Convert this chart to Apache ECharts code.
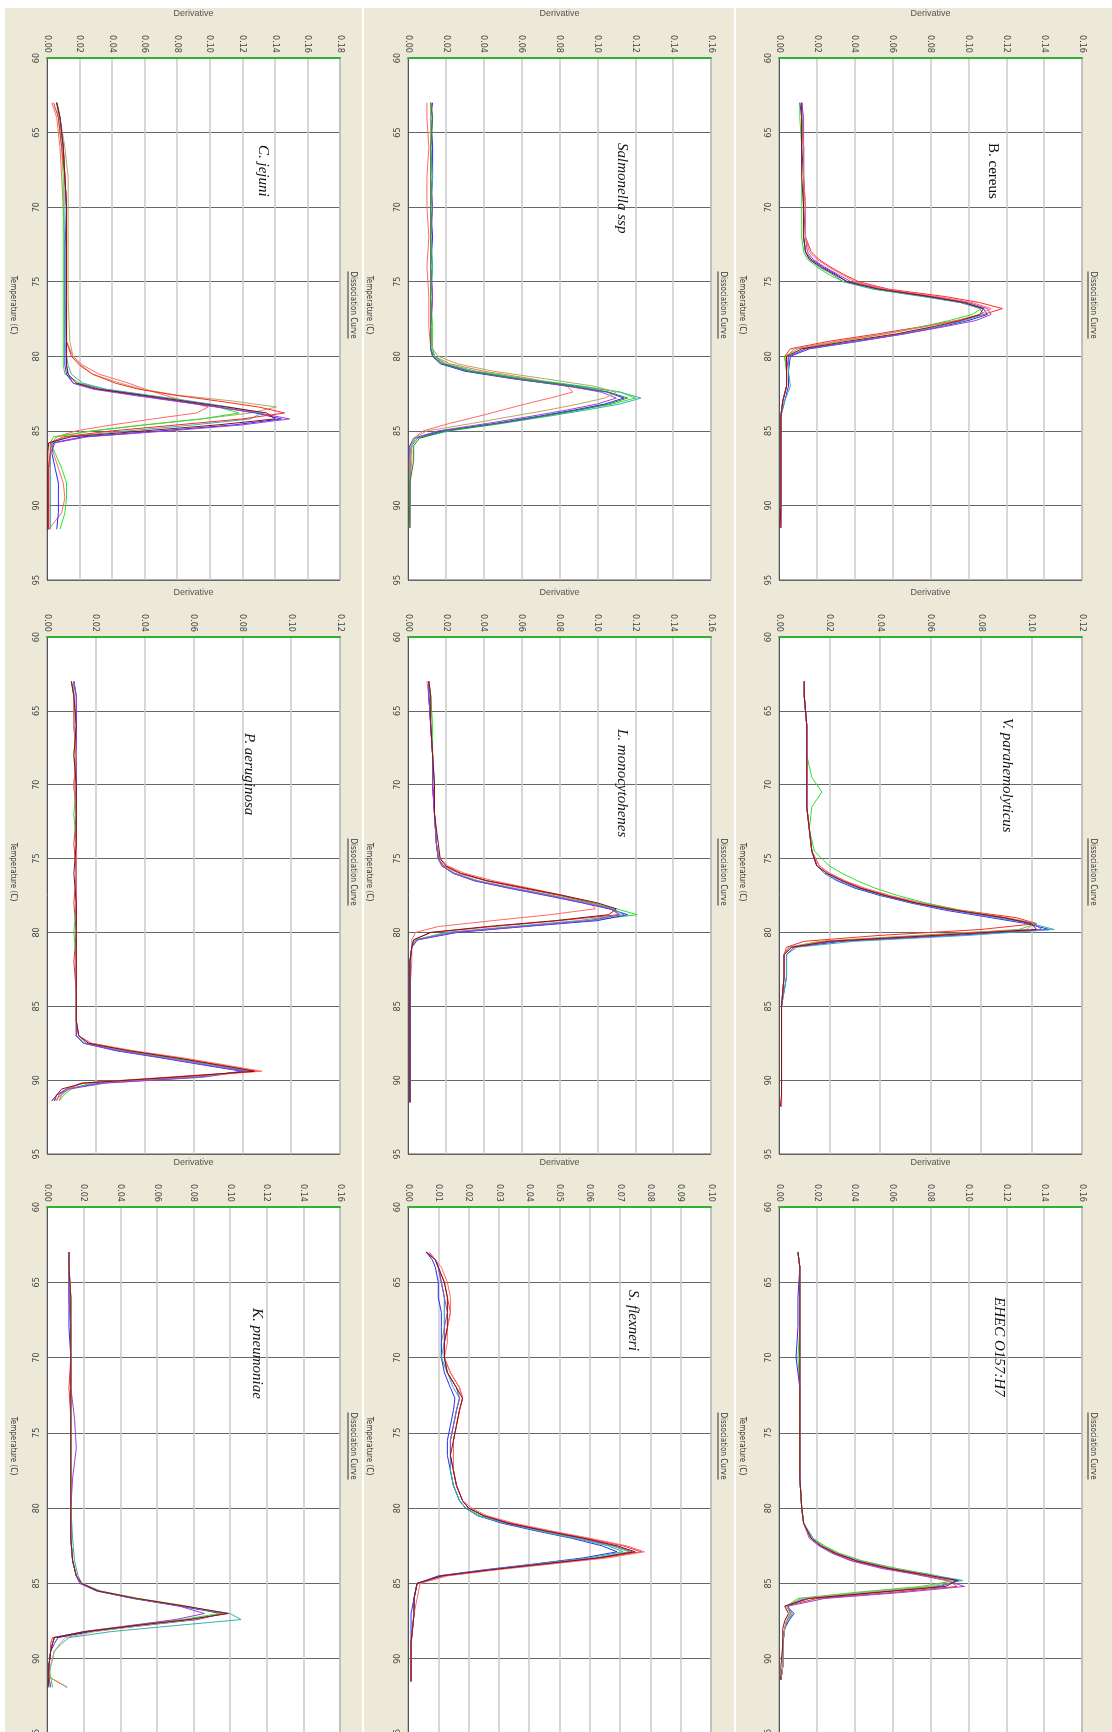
<!DOCTYPE html>
<html>
<head>
<meta charset="utf-8">
<title>Dissociation curves</title>
<script src="https://cdn.jsdelivr.net/npm/echarts@6/dist/echarts.min.js"></script>
<style>
	html, body { margin: 0; padding: 0; background: #fff; }
	#chart { width: 1112px; height: 1732px; }
</style>
</head>
<body>
<div id="chart"></div>
<script>
// values: temperature (C) per panel, derivative per curve

// C. jejuni
var cjTemp = [63, 64, 66, 68, 70, 73, 76, 79, 80, 80.6, 81.2, 81.8, 82.2, 82.6, 83, 83.4, 83.8, 84.2, 84.6, 85, 85.4, 85.8, 86.5, 87.5, 88.5, 89.5, 90.5, 91.6];
var cjCurves = [
	[0.003, 0.006, 0.008, 0.009, 0.010, 0.011, 0.011, 0.012, 0.016, 0.022, 0.032, 0.050, 0.060, 0.072, 0.085, 0.099, 0.092, 0.065, 0.040, 0.018, 0.006, 0.003, 0.004, 0.007, 0.010, 0.011, 0.009, 0.001],
	[0.006, 0.008, 0.011, 0.013, 0.013, 0.013, 0.013, 0.014, 0.016, 0.021, 0.028, 0.045, 0.058, 0.080, 0.114, 0.141, 0.125, 0.095, 0.060, 0.028, 0.006, 0.003, 0.002, 0.002, 0.002, 0.002, 0.002, 0.002],
	[0.006, 0.007, 0.009, 0.010, 0.010, 0.010, 0.010, 0.010, 0.010, 0.010, 0.011, 0.020, 0.035, 0.060, 0.085, 0.105, 0.118, 0.095, 0.060, 0.028, 0.004, 0.002, 0.005, 0.009, 0.012, 0.012, 0.011, 0.008],
	[0.006, 0.008, 0.010, 0.011, 0.012, 0.011, 0.011, 0.011, 0.011, 0.011, 0.012, 0.016, 0.030, 0.055, 0.080, 0.105, 0.128, 0.144, 0.115, 0.070, 0.022, 0.004, 0.003, 0.005, 0.007, 0.007, 0.007, 0.006],
	[0.006, 0.008, 0.010, 0.011, 0.012, 0.012, 0.012, 0.012, 0.012, 0.012, 0.013, 0.016, 0.028, 0.052, 0.078, 0.104, 0.130, 0.149, 0.120, 0.075, 0.025, 0.005, 0.002, 0.001, 0.001, 0.001, 0.001, 0.001],
	[0.006, 0.008, 0.010, 0.011, 0.011, 0.011, 0.011, 0.011, 0.012, 0.013, 0.015, 0.022, 0.036, 0.062, 0.088, 0.112, 0.132, 0.125, 0.090, 0.050, 0.012, 0.003, 0.002, 0.002, 0.002, 0.002, 0.002, 0.002],
	[0.004, 0.007, 0.009, 0.011, 0.012, 0.012, 0.012, 0.012, 0.015, 0.020, 0.028, 0.042, 0.056, 0.078, 0.105, 0.130, 0.146, 0.120, 0.080, 0.040, 0.010, 0.002, 0.002, 0.001, 0.001, 0.001, 0.001, 0.001],
	[0.006, 0.008, 0.010, 0.011, 0.012, 0.012, 0.012, 0.012, 0.012, 0.012, 0.013, 0.018, 0.032, 0.058, 0.084, 0.110, 0.135, 0.140, 0.105, 0.060, 0.015, 0.001, 0.0005, 0.0005, 0.0005, 0.0005, 0.0005, 0.0005]
];
var cjColors = ['salmon', 'olive', 'green', 'blue', 'purple', 'teal', 'red', 'maroon'];

// Salmonella ssp
var saTemp = [63, 64, 66, 68, 70, 72, 74, 76, 78, 79.5, 80, 80.5, 81, 81.5, 82, 82.4, 82.8, 83.2, 83.6, 84, 84.5, 85, 85.5, 86, 87, 88.5, 90, 91.5];
var saCurves = [
	[0.010, 0.010, 0.011, 0.010, 0.010, 0.011, 0.010, 0.011, 0.011, 0.012, 0.014, 0.022, 0.040, 0.065, 0.084, 0.087, 0.075, 0.062, 0.050, 0.038, 0.022, 0.008, 0.003, 0.002, 0.002, 0.001, 0.001, 0.001],
	[0.012, 0.012, 0.013, 0.012, 0.013, 0.012, 0.013, 0.012, 0.013, 0.013, 0.014, 0.020, 0.036, 0.062, 0.092, 0.112, 0.120, 0.108, 0.090, 0.072, 0.048, 0.020, 0.004, 0.002, 0.001, 0.001, 0.001, 0.001],
	[0.013, 0.012, 0.013, 0.013, 0.012, 0.013, 0.012, 0.013, 0.012, 0.012, 0.013, 0.017, 0.030, 0.055, 0.085, 0.105, 0.114, 0.104, 0.088, 0.070, 0.046, 0.018, 0.003, 0.001, 0.001, 0.001, 0.001, 0.001],
	[0.012, 0.012, 0.012, 0.013, 0.012, 0.012, 0.013, 0.012, 0.012, 0.013, 0.014, 0.019, 0.034, 0.060, 0.090, 0.112, 0.123, 0.112, 0.094, 0.075, 0.050, 0.022, 0.005, 0.002, 0.001, 0.001, 0.001, 0.001],
	[0.012, 0.013, 0.012, 0.012, 0.013, 0.012, 0.012, 0.013, 0.012, 0.012, 0.013, 0.018, 0.032, 0.056, 0.084, 0.102, 0.110, 0.100, 0.084, 0.066, 0.042, 0.016, 0.003, 0.001, 0.001, 0.001, 0.001, 0.001],
	[0.012, 0.012, 0.012, 0.012, 0.012, 0.012, 0.012, 0.012, 0.012, 0.013, 0.016, 0.026, 0.045, 0.072, 0.098, 0.110, 0.104, 0.090, 0.074, 0.056, 0.034, 0.010, 0.003, 0.002, 0.001, 0.001, 0.001, 0.001],
	[0.012, 0.013, 0.012, 0.012, 0.012, 0.012, 0.012, 0.012, 0.012, 0.012, 0.013, 0.018, 0.032, 0.058, 0.088, 0.106, 0.116, 0.106, 0.090, 0.072, 0.048, 0.020, 0.006, 0.003, 0.003, 0.001, 0.001, 0.0005]
];
var saColors = ['salmon', 'green', 'blue', 'teal', 'purple', 'olive', 'darkgreen'];

// B. cereus
var bcTemp = [63, 64, 66, 68, 70, 72, 73, 73.5, 74, 74.5, 75, 75.5, 76, 76.4, 76.8, 77.2, 77.6, 78, 78.5, 79, 79.5, 80, 81, 82, 83, 84, 86, 88, 90, 91.5];
var bcCurves = [
	[0.012, 0.012, 0.013, 0.013, 0.014, 0.014, 0.017, 0.021, 0.027, 0.034, 0.042, 0.058, 0.088, 0.106, 0.118, 0.108, 0.094, 0.076, 0.052, 0.026, 0.006, 0.003, 0.004, 0.004, 0.002, 0.001, 0.001, 0.001, 0.001, 0.001],
	[0.011, 0.011, 0.012, 0.012, 0.012, 0.012, 0.013, 0.015, 0.020, 0.026, 0.034, 0.050, 0.078, 0.098, 0.107, 0.102, 0.090, 0.076, 0.056, 0.032, 0.010, 0.003, 0.004, 0.004, 0.002, 0.001, 0.001, 0.001, 0.001, 0.001],
	[0.011, 0.012, 0.012, 0.013, 0.013, 0.013, 0.014, 0.017, 0.023, 0.030, 0.036, 0.052, 0.078, 0.096, 0.108, 0.110, 0.100, 0.086, 0.066, 0.042, 0.016, 0.006, 0.005, 0.005, 0.003, 0.001, 0.001, 0.001, 0.001, 0.001],
	[0.012, 0.012, 0.013, 0.013, 0.013, 0.013, 0.014, 0.016, 0.021, 0.028, 0.034, 0.050, 0.076, 0.096, 0.106, 0.108, 0.098, 0.084, 0.064, 0.040, 0.014, 0.005, 0.005, 0.006, 0.003, 0.001, 0.001, 0.001, 0.001, 0.001],
	[0.012, 0.013, 0.013, 0.013, 0.013, 0.014, 0.015, 0.018, 0.024, 0.031, 0.038, 0.055, 0.082, 0.100, 0.110, 0.112, 0.104, 0.088, 0.066, 0.040, 0.014, 0.005, 0.004, 0.004, 0.002, 0.001, 0.001, 0.001, 0.001, 0.001],
	[0.012, 0.012, 0.013, 0.013, 0.014, 0.014, 0.016, 0.020, 0.026, 0.033, 0.040, 0.056, 0.084, 0.102, 0.112, 0.106, 0.094, 0.078, 0.056, 0.030, 0.008, 0.004, 0.004, 0.004, 0.002, 0.001, 0.001, 0.001, 0.001, 0.001],
	[0.012, 0.012, 0.012, 0.012, 0.013, 0.013, 0.014, 0.016, 0.022, 0.029, 0.036, 0.053, 0.080, 0.098, 0.108, 0.106, 0.096, 0.082, 0.062, 0.036, 0.012, 0.004, 0.004, 0.004, 0.002, 0.001, 0.001, 0.001, 0.001, 0.0005]
];
var bcColors = ['red', 'green', 'blue', 'teal', 'purple', 'salmon', 'maroon'];

// P. aeruginosa
var paTemp = [63, 64, 66, 68, 70, 72, 74, 76, 78, 80, 82, 84, 86, 87, 87.5, 88, 88.5, 89, 89.4, 89.8, 90.2, 90.6, 91, 91.4];
var paCurves = [
	[0.010, 0.011, 0.011, 0.012, 0.011, 0.012, 0.011, 0.012, 0.011, 0.012, 0.011, 0.012, 0.012, 0.013, 0.018, 0.034, 0.054, 0.072, 0.086, 0.050, 0.014, 0.008, 0.005, 0.004],
	[0.011, 0.011, 0.012, 0.011, 0.012, 0.011, 0.012, 0.012, 0.012, 0.011, 0.012, 0.012, 0.012, 0.012, 0.015, 0.030, 0.050, 0.068, 0.082, 0.058, 0.018, 0.010, 0.007, 0.005],
	[0.011, 0.012, 0.012, 0.012, 0.012, 0.012, 0.012, 0.012, 0.012, 0.012, 0.012, 0.012, 0.012, 0.012, 0.015, 0.028, 0.047, 0.065, 0.080, 0.062, 0.022, 0.008, 0.004, 0.002],
	[0.011, 0.011, 0.011, 0.012, 0.012, 0.012, 0.012, 0.012, 0.012, 0.012, 0.012, 0.012, 0.012, 0.013, 0.016, 0.031, 0.051, 0.069, 0.083, 0.060, 0.020, 0.009, 0.006, 0.003],
	[0.011, 0.012, 0.012, 0.012, 0.012, 0.012, 0.012, 0.012, 0.012, 0.012, 0.012, 0.012, 0.012, 0.012, 0.015, 0.029, 0.048, 0.066, 0.081, 0.064, 0.024, 0.009, 0.004, 0.002],
	[0.010, 0.011, 0.011, 0.012, 0.011, 0.012, 0.012, 0.012, 0.012, 0.012, 0.012, 0.012, 0.012, 0.013, 0.018, 0.035, 0.056, 0.074, 0.088, 0.054, 0.015, 0.008, 0.006, 0.005],
	[0.010, 0.011, 0.012, 0.011, 0.012, 0.012, 0.012, 0.011, 0.012, 0.012, 0.012, 0.012, 0.012, 0.013, 0.017, 0.033, 0.053, 0.071, 0.085, 0.052, 0.015, 0.006, 0.004, 0.003]
];
var paColors = ['red', 'green', 'blue', 'teal', 'purple', 'salmon', 'maroon'];

// L. monocytogenes
var lmTemp = [63, 64, 66, 68, 70, 72, 74, 75, 75.5, 76, 76.5, 77, 77.5, 78, 78.4, 78.8, 79.2, 79.6, 80, 80.5, 81, 82, 84, 86, 88, 90, 91.5];
var lmCurves = [
	[0.010, 0.011, 0.012, 0.013, 0.013, 0.014, 0.015, 0.017, 0.021, 0.030, 0.045, 0.064, 0.082, 0.096, 0.099, 0.075, 0.045, 0.016, 0.004, 0.002, 0.002, 0.002, 0.001, 0.001, 0.001, 0.001, 0.001],
	[0.011, 0.011, 0.012, 0.013, 0.013, 0.014, 0.015, 0.016, 0.019, 0.027, 0.041, 0.060, 0.080, 0.098, 0.108, 0.111, 0.080, 0.045, 0.012, 0.003, 0.002, 0.001, 0.001, 0.001, 0.001, 0.001, 0.001],
	[0.011, 0.012, 0.013, 0.013, 0.014, 0.014, 0.015, 0.016, 0.018, 0.024, 0.036, 0.055, 0.076, 0.096, 0.110, 0.121, 0.095, 0.058, 0.022, 0.004, 0.002, 0.001, 0.001, 0.001, 0.001, 0.001, 0.001],
	[0.011, 0.011, 0.012, 0.013, 0.013, 0.014, 0.015, 0.016, 0.018, 0.024, 0.035, 0.053, 0.073, 0.092, 0.106, 0.116, 0.100, 0.062, 0.026, 0.005, 0.002, 0.001, 0.001, 0.001, 0.001, 0.001, 0.001],
	[0.011, 0.012, 0.012, 0.013, 0.014, 0.014, 0.015, 0.016, 0.018, 0.025, 0.037, 0.056, 0.076, 0.095, 0.108, 0.114, 0.090, 0.055, 0.020, 0.004, 0.002, 0.001, 0.001, 0.001, 0.001, 0.001, 0.001],
	[0.011, 0.011, 0.012, 0.013, 0.013, 0.014, 0.015, 0.016, 0.018, 0.024, 0.035, 0.054, 0.074, 0.093, 0.107, 0.112, 0.096, 0.060, 0.024, 0.005, 0.002, 0.001, 0.001, 0.001, 0.001, 0.001, 0.001],
	[0.011, 0.012, 0.012, 0.013, 0.014, 0.014, 0.016, 0.017, 0.020, 0.028, 0.042, 0.062, 0.082, 0.100, 0.110, 0.106, 0.078, 0.042, 0.012, 0.003, 0.002, 0.001, 0.001, 0.001, 0.001, 0.001, 0.001]
];
var lmColors = ['salmon', 'red', 'green', 'blue', 'teal', 'purple', 'maroon'];

// V. parahemolyticus
var vpTemp = [63, 64, 66, 68, 69.5, 70.5, 71.5, 73, 74.5, 75.5, 76, 76.5, 77, 77.5, 78, 78.5, 79, 79.4, 79.8, 80.2, 80.6, 81, 81.5, 83, 85, 87, 89, 91, 91.8];
var vpCurves = [
	[0.010, 0.010, 0.011, 0.011, 0.011, 0.011, 0.011, 0.012, 0.013, 0.016, 0.020, 0.026, 0.033, 0.043, 0.056, 0.072, 0.094, 0.102, 0.080, 0.040, 0.010, 0.003, 0.002, 0.002, 0.001, 0.001, 0.001, 0.001, 0.001],
	[0.010, 0.010, 0.011, 0.011, 0.013, 0.017, 0.013, 0.012, 0.014, 0.020, 0.025, 0.031, 0.038, 0.047, 0.058, 0.072, 0.090, 0.102, 0.095, 0.055, 0.016, 0.004, 0.002, 0.002, 0.001, 0.001, 0.001, 0.001, 0.001],
	[0.010, 0.010, 0.011, 0.011, 0.011, 0.011, 0.011, 0.012, 0.013, 0.015, 0.018, 0.023, 0.030, 0.040, 0.052, 0.066, 0.084, 0.098, 0.107, 0.070, 0.025, 0.006, 0.003, 0.003, 0.001, 0.001, 0.001, 0.001, 0.001],
	[0.010, 0.010, 0.011, 0.011, 0.011, 0.011, 0.011, 0.012, 0.013, 0.015, 0.018, 0.024, 0.031, 0.041, 0.053, 0.068, 0.086, 0.100, 0.109, 0.075, 0.030, 0.007, 0.003, 0.003, 0.001, 0.001, 0.001, 0.001, 0.001],
	[0.010, 0.010, 0.011, 0.011, 0.011, 0.011, 0.011, 0.012, 0.013, 0.015, 0.019, 0.025, 0.032, 0.042, 0.054, 0.069, 0.088, 0.101, 0.104, 0.065, 0.022, 0.005, 0.002, 0.002, 0.001, 0.001, 0.001, 0.001, 0.001],
	[0.010, 0.010, 0.011, 0.011, 0.011, 0.011, 0.011, 0.012, 0.013, 0.016, 0.020, 0.026, 0.034, 0.044, 0.056, 0.071, 0.090, 0.101, 0.098, 0.058, 0.018, 0.004, 0.002, 0.002, 0.001, 0.001, 0.001, 0.001, 0.001],
	[0.010, 0.010, 0.011, 0.011, 0.011, 0.011, 0.011, 0.012, 0.013, 0.015, 0.019, 0.025, 0.032, 0.042, 0.054, 0.070, 0.089, 0.100, 0.102, 0.062, 0.020, 0.005, 0.002, 0.002, 0.001, 0.001, 0.001, 0.001, 0.0005]
];
var vpColors = ['red', 'green', 'blue', 'teal', 'purple', 'salmon', 'maroon'];

// K. pneumoniae
var kpTemp = [63, 64, 66, 68, 70, 72, 74, 76, 78, 80, 82, 83.5, 84.5, 85, 85.5, 86, 86.5, 87, 87.4, 87.8, 88.2, 88.6, 89, 89.5, 90.5, 91.2, 91.9];
var kpCurves = [
	[0.012, 0.012, 0.013, 0.013, 0.013, 0.012, 0.013, 0.013, 0.013, 0.013, 0.013, 0.014, 0.016, 0.019, 0.028, 0.048, 0.074, 0.098, 0.078, 0.050, 0.022, 0.003, 0.002, 0.002, 0.001, 0.001, 0.011],
	[0.012, 0.012, 0.012, 0.013, 0.013, 0.013, 0.013, 0.013, 0.013, 0.013, 0.013, 0.014, 0.016, 0.019, 0.029, 0.050, 0.076, 0.094, 0.074, 0.046, 0.020, 0.004, 0.003, 0.002, 0.001, 0.002, 0.003],
	[0.012, 0.012, 0.012, 0.012, 0.013, 0.013, 0.013, 0.013, 0.013, 0.013, 0.013, 0.014, 0.016, 0.018, 0.027, 0.047, 0.072, 0.096, 0.082, 0.052, 0.024, 0.006, 0.004, 0.002, 0.001, 0.001, 0.001],
	[0.012, 0.012, 0.013, 0.013, 0.013, 0.013, 0.013, 0.013, 0.013, 0.013, 0.014, 0.015, 0.017, 0.019, 0.028, 0.048, 0.074, 0.100, 0.106, 0.070, 0.035, 0.012, 0.008, 0.004, 0.002, 0.001, 0.002],
	[0.012, 0.012, 0.012, 0.013, 0.013, 0.013, 0.015, 0.016, 0.014, 0.013, 0.013, 0.014, 0.016, 0.018, 0.028, 0.048, 0.072, 0.086, 0.070, 0.045, 0.020, 0.004, 0.003, 0.002, 0.001, 0.001, 0.002],
	[0.012, 0.012, 0.013, 0.013, 0.013, 0.013, 0.013, 0.013, 0.013, 0.013, 0.013, 0.014, 0.016, 0.019, 0.029, 0.049, 0.075, 0.097, 0.080, 0.052, 0.026, 0.010, 0.007, 0.004, 0.002, 0.001, 0.011],
	[0.012, 0.012, 0.013, 0.013, 0.013, 0.013, 0.013, 0.013, 0.013, 0.013, 0.013, 0.014, 0.016, 0.019, 0.028, 0.049, 0.075, 0.099, 0.077, 0.048, 0.021, 0.004, 0.003, 0.002, 0.001, 0.001, 0.0005]
];
var kpColors = ['red', 'green', 'blue', 'teal', 'purple', 'olive', 'maroon'];

// S. flexneri
var sfTemp = [63, 63.5, 64, 65, 66, 67, 68, 69, 70, 71, 72, 72.7, 73.5, 74.5, 75.5, 76.5, 77.5, 78.5, 79.5, 80, 80.5, 81, 81.5, 82, 82.5, 82.9, 83.3, 83.7, 84.1, 84.5, 85, 86, 87, 89, 91.5];
var sfCurves = [
	[0.007, 0.009, 0.010, 0.012, 0.013, 0.014, 0.013, 0.012, 0.012, 0.014, 0.017, 0.018, 0.017, 0.016, 0.015, 0.015, 0.015, 0.016, 0.018, 0.020, 0.025, 0.034, 0.046, 0.059, 0.071, 0.077, 0.064, 0.046, 0.028, 0.012, 0.003, 0.002, 0.002, 0.001, 0.001],
	[0.006, 0.009, 0.010, 0.011, 0.012, 0.012, 0.012, 0.011, 0.011, 0.013, 0.016, 0.017, 0.016, 0.015, 0.014, 0.014, 0.014, 0.015, 0.017, 0.019, 0.024, 0.032, 0.044, 0.056, 0.067, 0.073, 0.062, 0.045, 0.027, 0.011, 0.003, 0.002, 0.002, 0.001, 0.001],
	[0.006, 0.008, 0.009, 0.010, 0.010, 0.011, 0.011, 0.011, 0.011, 0.012, 0.014, 0.0155, 0.015, 0.014, 0.013, 0.013, 0.014, 0.015, 0.017, 0.019, 0.023, 0.031, 0.042, 0.054, 0.064, 0.069, 0.058, 0.042, 0.025, 0.010, 0.003, 0.002, 0.001, 0.001, 0.001],
	[0.006, 0.009, 0.010, 0.011, 0.012, 0.012, 0.012, 0.012, 0.011, 0.013, 0.015, 0.017, 0.016, 0.015, 0.014, 0.014, 0.014, 0.015, 0.017, 0.019, 0.023, 0.032, 0.043, 0.055, 0.066, 0.071, 0.060, 0.043, 0.026, 0.011, 0.003, 0.002, 0.002, 0.001, 0.001],
	[0.006, 0.009, 0.010, 0.011, 0.012, 0.013, 0.012, 0.012, 0.012, 0.013, 0.016, 0.017, 0.016, 0.015, 0.014, 0.014, 0.015, 0.016, 0.018, 0.020, 0.025, 0.033, 0.045, 0.057, 0.068, 0.074, 0.063, 0.045, 0.027, 0.011, 0.003, 0.002, 0.002, 0.001, 0.001],
	[0.007, 0.009, 0.011, 0.013, 0.014, 0.014, 0.013, 0.013, 0.012, 0.014, 0.017, 0.018, 0.017, 0.016, 0.015, 0.015, 0.015, 0.016, 0.018, 0.021, 0.026, 0.035, 0.047, 0.060, 0.072, 0.078, 0.066, 0.048, 0.029, 0.013, 0.004, 0.003, 0.002, 0.001, 0.001],
	[0.006, 0.009, 0.010, 0.012, 0.013, 0.013, 0.013, 0.012, 0.012, 0.013, 0.016, 0.018, 0.017, 0.016, 0.015, 0.014, 0.015, 0.016, 0.018, 0.020, 0.025, 0.033, 0.045, 0.058, 0.069, 0.075, 0.063, 0.045, 0.027, 0.011, 0.003, 0.002, 0.002, 0.001, 0.001]
];
var sfColors = ['red', 'green', 'blue', 'teal', 'purple', 'salmon', 'maroon'];

// EHEC O157:H7
var ehTemp = [63, 64, 66, 68, 70, 72, 74, 76, 78, 80, 81, 82, 82.5, 83, 83.5, 84, 84.4, 84.8, 85.2, 85.6, 86, 86.5, 87, 87.5, 88, 89, 90.5, 91.4];
var ehCurves = [
	[0.010, 0.011, 0.011, 0.011, 0.011, 0.011, 0.011, 0.011, 0.011, 0.012, 0.013, 0.017, 0.022, 0.029, 0.039, 0.056, 0.074, 0.090, 0.094, 0.060, 0.020, 0.004, 0.006, 0.004, 0.003, 0.002, 0.002, 0.001],
	[0.010, 0.011, 0.011, 0.011, 0.010, 0.011, 0.011, 0.011, 0.011, 0.012, 0.013, 0.018, 0.024, 0.032, 0.044, 0.062, 0.080, 0.093, 0.075, 0.040, 0.010, 0.004, 0.007, 0.005, 0.003, 0.002, 0.002, 0.001],
	[0.010, 0.011, 0.010, 0.010, 0.009, 0.011, 0.011, 0.011, 0.011, 0.012, 0.013, 0.017, 0.022, 0.030, 0.041, 0.058, 0.077, 0.095, 0.085, 0.050, 0.014, 0.004, 0.008, 0.005, 0.003, 0.002, 0.002, 0.001],
	[0.010, 0.011, 0.011, 0.011, 0.011, 0.011, 0.011, 0.011, 0.011, 0.012, 0.013, 0.018, 0.023, 0.031, 0.043, 0.060, 0.079, 0.097, 0.082, 0.045, 0.012, 0.004, 0.007, 0.004, 0.003, 0.002, 0.002, 0.001],
	[0.010, 0.011, 0.011, 0.011, 0.011, 0.011, 0.011, 0.011, 0.011, 0.012, 0.013, 0.016, 0.021, 0.028, 0.038, 0.054, 0.072, 0.088, 0.098, 0.065, 0.024, 0.005, 0.006, 0.004, 0.003, 0.002, 0.002, 0.001],
	[0.010, 0.011, 0.011, 0.011, 0.011, 0.011, 0.011, 0.011, 0.011, 0.012, 0.013, 0.017, 0.023, 0.031, 0.042, 0.060, 0.078, 0.092, 0.080, 0.044, 0.012, 0.004, 0.006, 0.004, 0.003, 0.002, 0.002, 0.001],
	[0.010, 0.011, 0.011, 0.011, 0.011, 0.011, 0.011, 0.011, 0.011, 0.012, 0.013, 0.017, 0.022, 0.030, 0.041, 0.058, 0.076, 0.094, 0.088, 0.052, 0.016, 0.003, 0.005, 0.003, 0.002, 0.002, 0.001, 0.001]
];
var ehColors = ['red', 'green', 'blue', 'teal', 'purple', 'olive', 'maroon'];

// panel titles and derivative axis ticks (max, step), row by row
var speciesNames = ['C. jejuni', 'Salmonella ssp', 'B. cereus', 'P. aeruginosa', 'L. monocytohenes', 'V. parahemolyticus', 'K. pneumoniae', 'S. flexneri', 'EHEC O157:H7'];
var derivMax = [0.18, 0.16, 0.16, 0.12, 0.16, 0.12, 0.16, 0.10, 0.16];
var derivStep = [0.02, 0.02, 0.02, 0.02, 0.02, 0.02, 0.02, 0.01, 0.02];
var tempTicks = [60, 65, 70, 75, 80, 85, 90, 95];

var temps = [cjTemp, saTemp, bcTemp, paTemp, lmTemp, vpTemp, kpTemp, sfTemp, ehTemp];
var curves = [cjCurves, saCurves, bcCurves, paCurves, lmCurves, vpCurves, kpCurves, sfCurves, ehCurves];
var colorNames = [cjColors, saColors, bcColors, paColors, lmColors, vpColors, kpColors, sfColors, ehColors];

// ---- styles / layout ----
var palette = {
	red: '#ff2a2a', salmon: '#ff6a6a', green: '#2ee02e', darkgreen: '#2a8a2a', blue: '#2a2aff',
	teal: '#38b0b0', purple: '#a040d8', olive: '#b8a860', maroon: '#8b1010'
};
var colLeft = [47, 408, 779];
var colWidth = [293, 303, 303];
var rowTop = [58, 637, 1207];
var rowHeight = [522, 517, 527];
var tempLabelX = [13, 369, 742];
var dissocX = [353, 723, 1093];
var rowLabelY = [305, 872, 1446];
var speciesPos = [[263, 145], [622, 143], [993, 143], [249, 733], [622, 729], [1007, 718], [257, 1308], [633, 1290], [999, 1297]];
var speciesItalic = [true, true, false, true, true, true, true, true, true];

var narrow = '"Liberation Sans Narrow", "DejaVu Sans Condensed", sans-serif';
var ctx = document.createElement('canvas').getContext('2d');
ctx.font = '8px ' + narrow;
var dissocW = ctx.measureText('Dissociation Curve').width;

var grids = [], xAxes = [], yAxes = [], series = [];
var graphics = [
	{ type: 'rect', shape: { x: 0, y: 0, width: 1112, height: 8 }, style: { fill: '#fff' }, silent: true },
	{ type: 'rect', shape: { x: 0, y: 0, width: 5, height: 1732 }, style: { fill: '#fff' }, silent: true },
	{ type: 'rect', shape: { x: 362, y: 0, width: 2, height: 1732 }, style: { fill: '#fff' }, silent: true },
	{ type: 'rect', shape: { x: 734, y: 0, width: 2, height: 1732 }, style: { fill: '#fff' }, silent: true }
];

speciesNames.forEach(function (name, i) {
	var r = Math.floor(i / 3), c = i % 3;
	grids.push({
		left: colLeft[c], top: rowTop[r], width: colWidth[c], height: rowHeight[r],
		show: true, backgroundColor: '#fff', borderColor: '#555', borderWidth: 1,
		outerBoundsMode: 'none'
	});
	xAxes.push({
		gridIndex: i, type: 'value', position: 'top',
		min: 0, max: derivMax[i], interval: derivStep[i],
		axisLine: { show: true, onZero: false, lineStyle: { color: '#33b033', width: 2 } },
		axisTick: { show: false },
		splitLine: { show: true, lineStyle: { color: '#cacaca', width: 1.5 } },
		axisLabel: {
			rotate: 90, margin: 5, fontSize: 9, color: '#444', fontFamily: narrow,
			formatter: function (v) { return v.toFixed(2); }
		}
	});
	yAxes.push({
		gridIndex: i, type: 'value', inverse: true,
		min: tempTicks[0], max: tempTicks[tempTicks.length - 1], interval: 5,
		axisLine: { show: true, onZero: false, lineStyle: { color: '#555' } },
		axisTick: { show: false },
		splitLine: { show: true, lineStyle: { color: '#666', width: 1 } },
		axisLabel: { rotate: 90, margin: 6, fontSize: 9, color: '#444', fontFamily: narrow }
	});

	var t = temps[i];
	curves[i].forEach(function (vals, k) {
		var col = palette[colorNames[i][k]];
		series.push({
			type: 'line', xAxisIndex: i, yAxisIndex: i,
			data: t.map(function (temp, j) { return [vals[j], temp]; }),
			showSymbol: false, symbol: 'none', silent: true,
			lineStyle: { width: 1, color: col }, itemStyle: { color: col }
		});
	});

	graphics.push({
		type: 'text', x: colLeft[c] + colWidth[c] / 2, y: rowTop[r] - 44, z: 10,
		style: { text: 'Derivative', fontSize: 9, fontFamily: 'Liberation Sans, Arial, sans-serif', fill: '#555', align: 'center', verticalAlign: 'middle' }
	});
	graphics.push({
		type: 'text', x: tempLabelX[c], y: rowLabelY[r], rotation: -Math.PI / 2, z: 10,
		style: { text: 'Temperature (C)', fontSize: 8, fontFamily: narrow, fill: '#333', align: 'center', verticalAlign: 'middle' }
	});
	graphics.push({
		type: 'text', x: dissocX[c], y: rowLabelY[r], rotation: -Math.PI / 2, z: 10,
		style: { text: 'Dissociation Curve', fontSize: 8, fontFamily: narrow, fill: '#333', align: 'center', verticalAlign: 'middle' }
	});
	graphics.push({
		type: 'line', z: 10,
		shape: { x1: dissocX[c] - 5, y1: rowLabelY[r] - dissocW / 2, x2: dissocX[c] - 5, y2: rowLabelY[r] + dissocW / 2 },
		style: { stroke: '#333', lineWidth: 1 }
	});
	graphics.push({
		type: 'text', x: speciesPos[i][0], y: speciesPos[i][1], rotation: -Math.PI / 2, z: 10,
		style: {
			text: name, fontSize: 15, fontStyle: speciesItalic[i] ? 'italic' : 'normal',
			fontFamily: '"Liberation Serif", "Times New Roman", serif', fill: '#111',
			align: 'left', verticalAlign: 'middle'
		}
	});
});

var myChart = echarts.init(document.getElementById('chart'));
myChart.setOption({
	animation: false,
	backgroundColor: '#ECE9D8',
	grid: grids,
	xAxis: xAxes,
	yAxis: yAxes,
	series: series,
	graphic: graphics
});
</script>
</body>
</html>
